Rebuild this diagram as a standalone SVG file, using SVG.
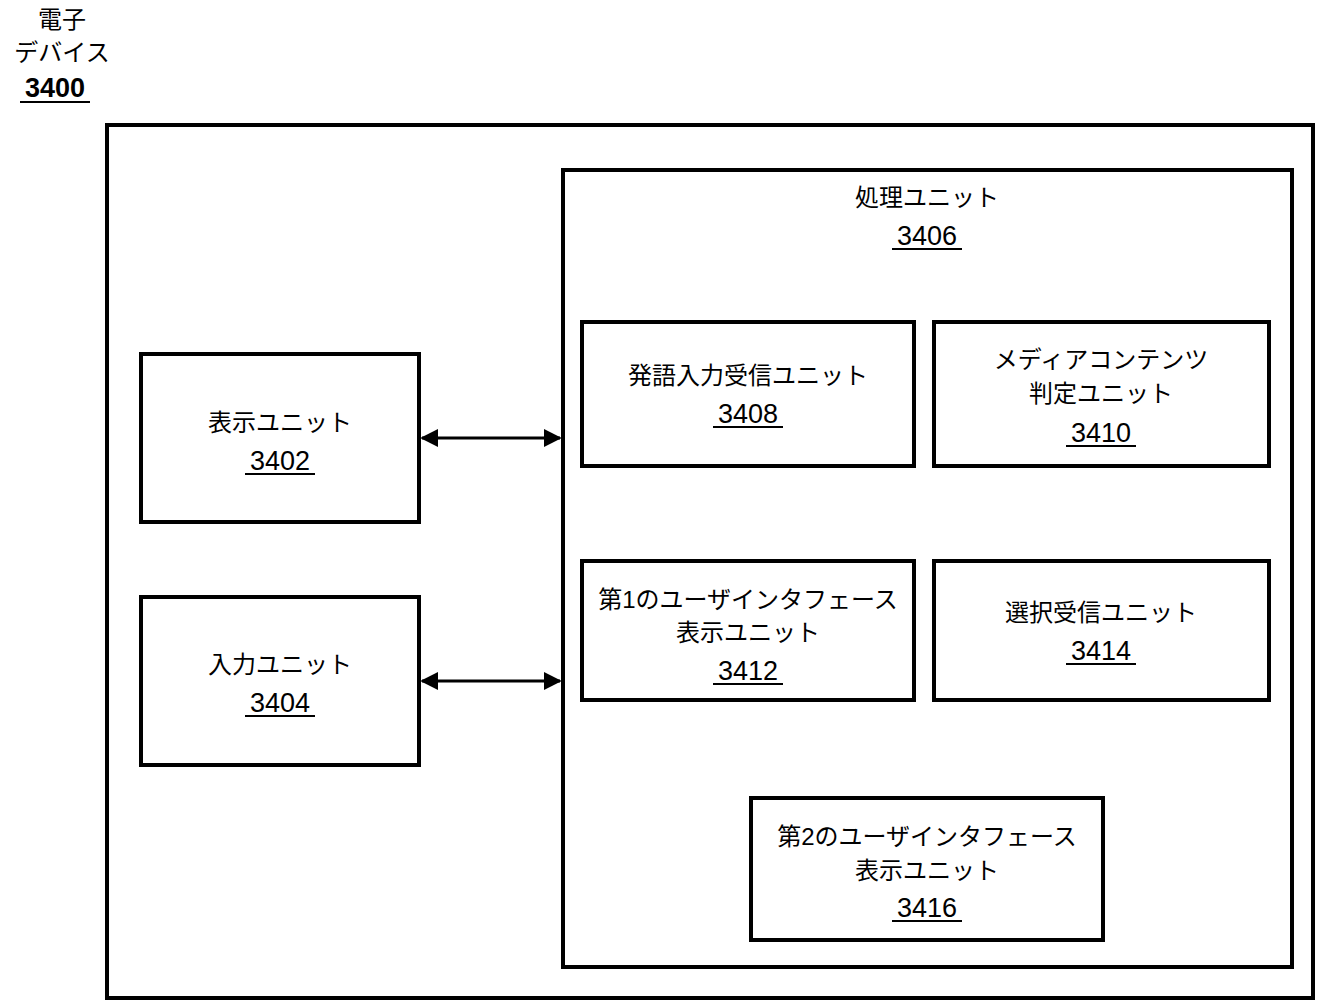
<svg xmlns="http://www.w3.org/2000/svg" width="1323" height="1008" viewBox="0 0 1323 1008">
<style>
.b{fill:#fff;stroke:#000;stroke-width:4}
.t{font-family:"Liberation Sans","Noto Sans CJK JP",sans-serif;font-size:24px;text-anchor:middle;fill:#000}
.n{font-size:27px}
.u{stroke:#000;stroke-width:2}
.c{stroke:#000;stroke-width:3;fill:none;marker-start:url(#a);marker-end:url(#a)}
</style>
<defs><marker id="a" viewBox="0 0 10 10" refX="9" refY="5" markerWidth="6" markerHeight="6" orient="auto-start-reverse"><path d="M0,0L10,5L0,10z" fill="#000"/></marker></defs>
<rect width="1323" height="1008" fill="#fff"/>
<g id="device"><text class="t" x="62" y="28">電子</text><text class="t" x="62" y="61">デバイス</text><text class="t" x="55" y="97" style="font-weight:bold;font-size:27px">3400</text><line class="u" x1="20" y1="102" x2="90" y2="102"/>
<rect class="b" x="107" y="125" width="1206" height="873"/></g>
<g id="n3406"><rect class="b" x="563" y="170" width="729" height="797"/><text class="t" x="927" y="206">処理ユニット</text><text class="t n" x="927" y="245">3406</text><line class="u" x1="892" y1="249" x2="962" y2="249"/></g>
<g id="n3402"><rect class="b" x="141" y="354" width="278" height="168"/><text class="t" x="280" y="431">表示ユニット</text><text class="t n" x="280" y="470">3402</text><line class="u" x1="245" y1="474" x2="315" y2="474"/></g>
<g id="n3404"><rect class="b" x="141" y="597" width="278" height="168"/><text class="t" x="280" y="673">入力ユニット</text><text class="t n" x="280" y="712">3404</text><line class="u" x1="245" y1="716" x2="315" y2="716"/></g>
<g id="n3408"><rect class="b" x="582" y="322" width="332" height="144"/><text class="t" x="748" y="384">発語入力受信ユニット</text><text class="t n" x="748" y="423">3408</text><line class="u" x1="713" y1="427" x2="783" y2="427"/></g>
<g id="n3410"><rect class="b" x="934" y="322" width="335" height="144"/><text class="t" x="1101" y="368">メディアコンテンツ</text><text class="t" x="1101" y="402">判定ユニット</text><text class="t n" x="1101" y="442">3410</text><line class="u" x1="1066" y1="446" x2="1136" y2="446"/></g>
<g id="n3412"><rect class="b" x="582" y="561" width="332" height="139"/><text class="t" x="748" y="608">第1のユーザインタフェース</text><text class="t" x="748" y="641">表示ユニット</text><text class="t n" x="748" y="680">3412</text><line class="u" x1="713" y1="684" x2="783" y2="684"/></g>
<g id="n3414"><rect class="b" x="934" y="561" width="335" height="139"/><text class="t" x="1101" y="621">選択受信ユニット</text><text class="t n" x="1101" y="660">3414</text><line class="u" x1="1066" y1="664" x2="1136" y2="664"/></g>
<g id="n3416"><rect class="b" x="751" y="798" width="352" height="142"/><text class="t" x="927" y="845">第2のユーザインタフェース</text><text class="t" x="927" y="879">表示ユニット</text><text class="t n" x="927" y="917">3416</text><line class="u" x1="892" y1="921" x2="962" y2="921"/></g>
<g id="connectors"><line class="c" x1="422" y1="438" x2="560" y2="438"/><line class="c" x1="422" y1="681" x2="560" y2="681"/></g>
</svg>
